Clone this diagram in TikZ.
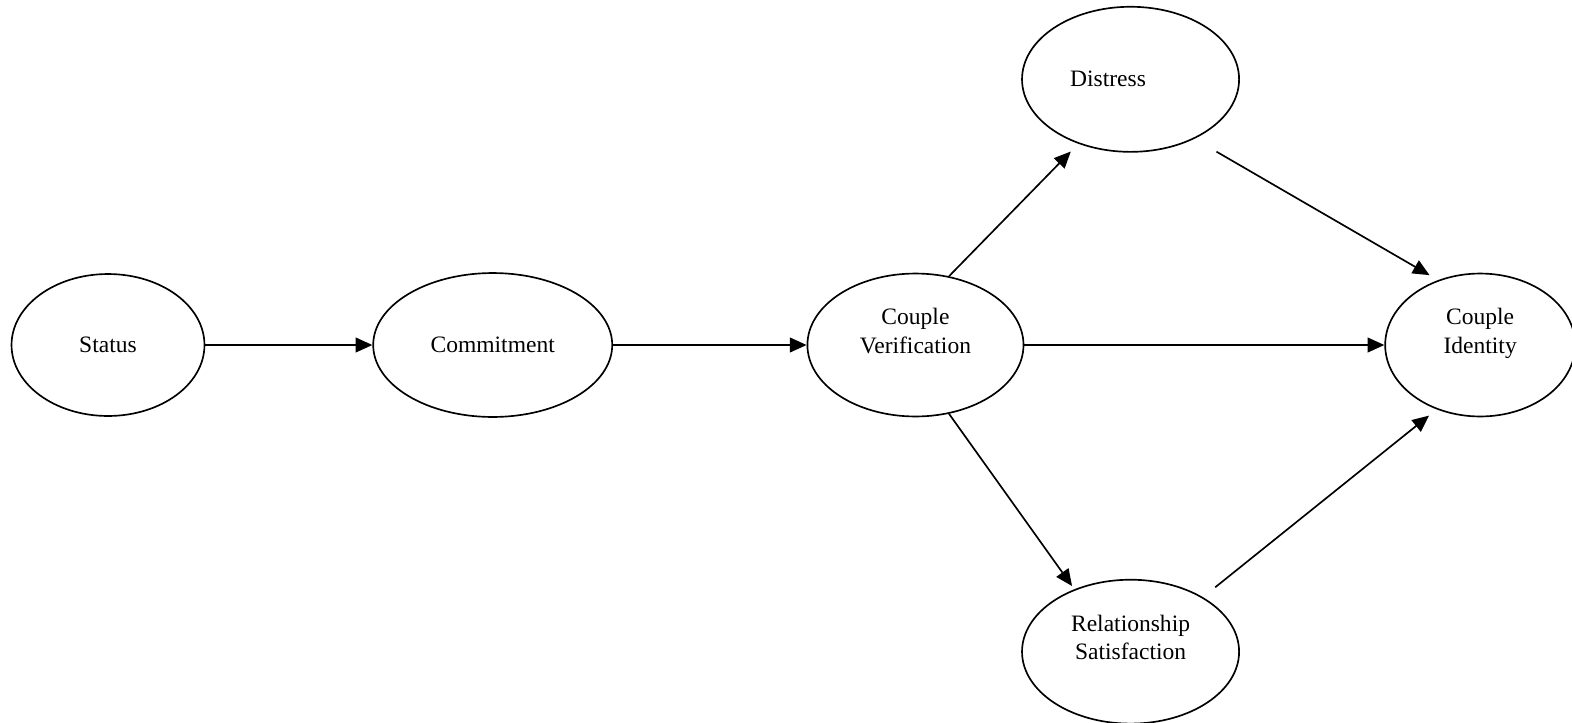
\documentclass[tikz,border=0pt]{standalone}
\usepackage{fontspec}
\setmainfont{Liberation Serif}
\usetikzlibrary{arrows.meta,positioning,shapes.geometric}

\begin{document}
\begin{tikzpicture}[>={Triangle[length=8.5pt,width=7.5pt]},x=0.51pt,y=-0.51pt,line width=0.85pt,
    oval/.style={draw,ellipse,inner sep=0pt,align=center,font=\fontsize{12}{14.5}\selectfont},
    twoline/.style={text depth=14.5pt}]
  \useasboundingbox (0,0) rectangle (1572,723);
  \node[oval, minimum width=98.4pt, minimum height=72.4pt]  (status) at (108,345)                {Status};
  \node[oval, minimum width=121.9pt, minimum height=73.4pt] (commitment) [right=85.2pt of status] {Commitment};
  \node[oval, twoline, minimum width=110.2pt, minimum height=72.9pt] (cv) [right=98.7pt of commitment] {Couple\\Verification};
  \node[oval, twoline, minimum width=96.9pt, minimum height=72.9pt]  (ci) [right=183.6pt of cv]       {Couple\\Identity};
  \node[oval, minimum width=110.7pt, minimum height=74pt]   (distress) [above=61.2pt of cv, xshift=109.7pt] {Distress\hspace*{23pt}};
  \node[oval, twoline, minimum width=110.7pt, minimum height=73.4pt] (satisfaction) [below=82.4pt of cv, xshift=109.7pt] {Relationship\\Satisfaction};

  \path[->]
  (status)
  edge (commitment)

  (commitment)
  edge (cv)

  (cv)
  edge (ci)
  (cv.64)
  edge [shorten >=5.5pt] (distress.231)
  (cv.-64)
  edge [shorten >=2pt] (satisfaction.132)

  (distress.-43.6)
  edge [shorten <=13pt, shorten >=5pt] (ci.123.5)

  (satisfaction.37)
  edge [shorten <=8pt, shorten >=5pt] (ci.236.5)
;
\end{tikzpicture}
\end{document}
